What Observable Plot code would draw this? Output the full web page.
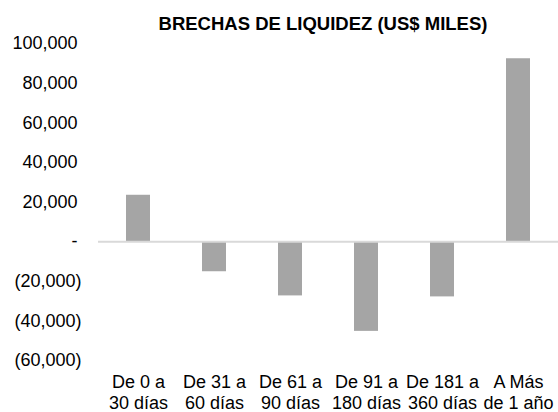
<!DOCTYPE html>
<html>
<head>
<meta charset="utf-8">
<script src="https://cdn.jsdelivr.net/npm/d3@7"></script>
<script src="https://cdn.jsdelivr.net/npm/@observablehq/plot@0.6"></script>
<style>
  body { margin: 0; background: #fff; font-family: "Liberation Sans", Arial, sans-serif; }
  #wrap { position: relative; width: 558px; height: 412px; }
  #wrap svg { display: block; }
  #title { position: absolute; top: 13px; left: 88px; width: 470px; text-align: center;
           font-weight: bold; font-size: 18.5px; color: #000; line-height: normal; white-space: nowrap; }
</style>
</head>
<body>
<div id="wrap"><div id="title">BRECHAS DE LIQUIDEZ (US$ MILES)</div></div>
<script>
const categories = ["De 0 a\n30 días", "De 31 a\n60 días", "De 61 a\n90 días", "De 91 a\n180 días", "De 181 a\n360 días", "A Más\nde 1 año"];
const values = [23400, -15200, -27400, -45300, -27900, 92300];
const yTicks = [-60000, -40000, -20000, 0, 20000, 40000, 60000, 80000, 100000];

const data = categories.map((c, i) => ({category: c, value: values[i]}));
const num = d3.format(",");
const fmt = d => d < 0 ? `(${num(-d)})` : d === 0 ? "-" : num(d);

const chart = Plot.plot({
  width: 558,
  height: 412,
  marginLeft: 98,
  marginRight: 0,
  marginTop: 43,
  marginBottom: 52,
  x: {domain: categories, paddingInner: 0.6877, paddingOuter: 0.3438, label: null},
  y: {domain: [-60000, 100000], label: null},
  style: {fontFamily: "'Liberation Sans', Arial, sans-serif", fontSize: "18px", color: "#000", background: "#fff"},
  marks: [
    Plot.barY(data, {x: "category", y: "value", fill: "#a5a5a5"}),
    Plot.ruleY([0], {stroke: "#d9d9d9", strokeWidth: 2}),
    Plot.axisY(yTicks.filter(d => d >= 0), {tickSize: 0, tickPadding: 17, dx: -4, tickFormat: fmt, label: null, fill: "#000"}),
    Plot.axisY(yTicks.filter(d => d < 0), {tickSize: 0, tickPadding: 17, tickFormat: fmt, label: null, fill: "#000"}),
    Plot.axisX({tickSize: 0, tickPadding: 13, lineHeight: 1.15, label: null, fill: "#000"})
  ]
});
document.getElementById("wrap").appendChild(chart);
</script>
</body>
</html>
